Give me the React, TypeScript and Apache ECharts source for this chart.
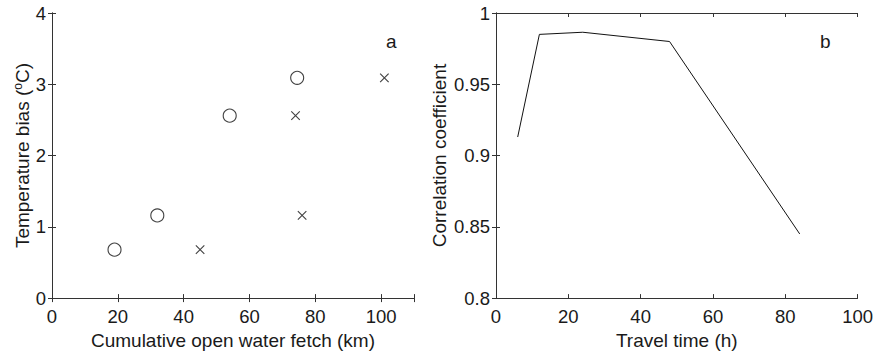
import React, { useEffect, useRef } from "react";
import * as echarts from "echarts";

const circleFetch = [19, 32, 54, 74.5];
const circleBias = [0.68, 1.16, 2.56, 3.09];
const crossFetch = [45, 74, 76, 101];
const crossBias = [0.68, 2.56, 1.16, 3.09];

const travelTime = [6, 12, 24, 48, 84];
const corrCoef = [0.913, 0.985, 0.9865, 0.98, 0.845];

const FONT = "Liberation Sans";
const TXT = "#1a1a1a";
const AX = "#333";

export default function App() {
  const ref = useRef<HTMLDivElement>(null);
  useEffect(() => {
    document.body.style.margin = "0";
    const chart = echarts.init(ref.current!, null, { renderer: "svg" });
    const label = { color: TXT, fontFamily: FONT, fontSize: 18.5 };
    const title = { color: TXT, fontFamily: FONT, fontSize: 19 };
    const axisLine = { show: true, lineStyle: { color: AX, width: 1 } };
    const tick = { show: true, inside: true, length: 4, lineStyle: { color: AX } };
    const mkX = (grid: number, min: number, max: number, interval: number, name: string) => [
      {
        type: "value", gridIndex: grid, min, max, interval, position: "bottom",
        axisLine, axisTick: tick, splitLine: { show: false },
        axisLabel: { ...label, margin: 9, showMaxLabel: true, formatter: (v: number) => (v > max - 1e-9 && max % interval !== 0 ? "" : String(v)) },
        name, nameLocation: "middle", nameGap: 31,
        nameTextStyle: { ...title },
      },
      {
        type: "value", gridIndex: grid, min, max, interval, position: "top",
        axisLine, axisTick: tick, splitLine: { show: false }, axisLabel: { show: false },
      },
    ];
    const mkY = (grid: number, min: number, max: number, interval: number, name: any, gap: number, fmt: (v: number) => string, rich?: any) => [
      {
        type: "value", gridIndex: grid, min, max, interval, position: "left",
        axisLine, axisTick: tick, splitLine: { show: false },
        axisLabel: { ...label, margin: 6, formatter: fmt },
        name, nameLocation: "middle", nameGap: gap,
        nameTextStyle: { ...title, rich },
      },
      {
        type: "value", gridIndex: grid, min, max, interval, position: "right",
        axisLine, axisTick: tick, splitLine: { show: false }, axisLabel: { show: false },
      },
    ];
    const fmt2 = (v: number) => {
      const r = Math.round(v * 100) / 100;
      return r === 1 ? "1" : String(r);
    };
    chart.setOption({
      animation: false,
      grid: [
        { left: 52, top: 13, width: 362, height: 286 },
        { left: 496, top: 13, width: 362, height: 286 },
      ],
      xAxis: [
        ...mkX(0, 0, 110, 20, "Cumulative open water fetch (km)"),
        ...mkX(1, 0, 100, 20, "Travel time (h)"),
      ],
      yAxis: [
        ...mkY(0, 0, 4, 1, "Temperature bias ({sup|o}C)", 20, (v) => String(v), {
          sup: { fontSize: 12, fontFamily: FONT, color: TXT, verticalAlign: "top", padding: [0, 0, 8, 0] },
        }),
        ...mkY(1, 0.8, 1, 0.05, "Correlation coefficient", 47, fmt2),
      ],
      series: [
        {
          type: "scatter", xAxisIndex: 0, yAxisIndex: 0,
          data: circleFetch.map((x, i) => [x, circleBias[i]]),
          symbol: "circle", symbolSize: 13,
          itemStyle: { color: "rgba(0,0,0,0)", borderColor: "#111", borderWidth: 1.1 },
        },
        {
          type: "scatter", xAxisIndex: 0, yAxisIndex: 0,
          data: crossFetch.map((x, i) => [x, crossBias[i]]),
          symbol: "path://M0,0L10,10M10,0L0,10", symbolSize: 8.5,
          itemStyle: { color: "none", borderColor: "#111", borderWidth: 1.1 },
        },
        {
          type: "line", xAxisIndex: 2, yAxisIndex: 2,
          data: travelTime.map((x, i) => [x, corrCoef[i]]),
          showSymbol: false, symbol: "none",
          lineStyle: { color: "#111", width: 1 },
        },
      ],
      graphic: [
        { type: "text", left: 386, top: 32, style: { text: "a", font: `19px ${FONT}`, fill: TXT } },
        { type: "text", left: 820, top: 32, style: { text: "b", font: `19px ${FONT}`, fill: TXT } },
      ],
    });
    return () => chart.dispose();
  }, []);
  return <div ref={ref} style={{ width: 876, height: 355 }} />;
}
